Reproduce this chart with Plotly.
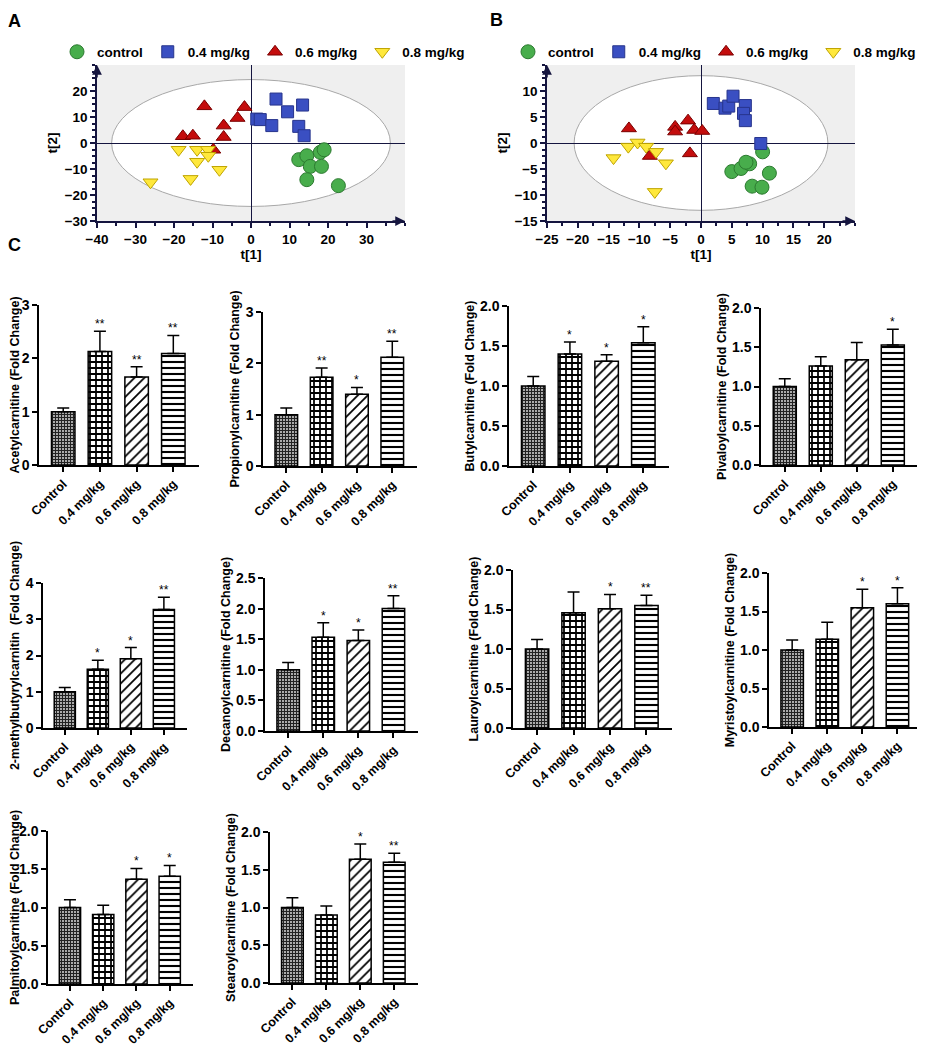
import plotly.graph_objects as go

# the page has an 8px body margin; the figure fills the rest of the 925x1050 window
PAGE_OFF = 8
W, H = 925 - PAGE_OFF, 1050 - PAGE_OFF
FONT = "Arial, 'Liberation Sans', sans-serif"
NAVY = "#15153f"

groups = ["Control", "0.4 mg/kg", "0.6 mg/kg", "0.8 mg/kg"]
legend_names = ["control", "0.4 mg/kg", "0.6 mg/kg", "0.8 mg/kg"]

# ---------- PCA score plot A (t[1], t[2]) ----------
a_ctrl_t1 = [12.4, 14.5, 15.4, 18.0, 19.0, 18.3, 14.5, 22.7]
a_ctrl_t2 = [-6.4, -4.9, -9.0, -3.6, -2.6, -9.0, -14.1, -16.4]
a_04_t1 = [1.5, 2.4, 6.5, 5.4, 9.5, 13.4, 12.4, 13.8]
a_04_t2 = [9.2, 9.0, 16.9, 6.7, 12.0, 14.6, 6.4, 2.8]
a_06_t1 = [-12.1, -1.7, -3.5, -7.1, -17.7, -15.1, -7.1, -9.8]
a_06_t2 = [14.1, 13.8, 9.6, 6.7, 2.6, 2.8, 2.3, -2.6]
a_08_t1 = [-18.8, -14.0, -11.2, -11.1, -14.0, -8.2, -15.7, -26.1]
a_08_t2 = [-2.6, -2.6, -2.6, -4.9, -7.2, -10.3, -13.8, -15.1]

# ---------- PCA score plot B ----------
b_ctrl_t1 = [10.0, 5.0, 6.5, 7.9, 7.3, 11.1, 8.3, 9.9]
b_ctrl_t2 = [-1.7, -5.5, -4.9, -4.0, -3.7, -5.8, -8.3, -8.5]
b_04_t1 = [2.0, 3.9, 4.5, 5.2, 7.2, 6.9, 7.2, 9.7]
b_04_t2 = [7.6, 6.7, 7.1, 9.0, 7.2, 5.7, 4.3, -0.1]
b_06_t1 = [-11.7, -4.2, -4.2, -2.1, -1.1, 0.2, -8.3, -1.8]
b_06_t2 = [2.8, 3.1, 2.2, 4.3, 2.5, 2.3, -2.5, -2.0]
b_08_t1 = [-14.2, -11.8, -10.3, -8.9, -7.3, -5.7, -7.5]
b_08_t2 = [-2.9, -0.7, 0.1, -0.7, -1.7, -3.9, -9.4]

# Hotelling ellipse semi-axes
a_ellipse = [36.2, 24.4]
b_ellipse = [20.6, 12.95]

# ---------- Fold-change bar data ----------
metabolites = ["Acetylcarnitine", "Propionylcarnitine", "Butylcarnitine", "Pivaloylcarnitine",
               "2-methylbutyrylcarnitin ", "Decanoylcarnitine", "Lauroylcarnitine", "Myristoylcarnitine",
               "Palmitoylcarnitine", "Stearoylcarnitine"]
acetyl_mean = [1.0, 2.13, 1.65, 2.09]
acetyl_err = [0.07, 0.38, 0.19, 0.34]
acetyl_sig = ["", "**", "**", "**"]
propionyl_mean = [1.0, 1.73, 1.40, 2.12]
propionyl_err = [0.13, 0.18, 0.13, 0.31]
propionyl_sig = ["", "**", "*", "**"]
butyl_mean = [1.0, 1.40, 1.31, 1.54]
butyl_err = [0.12, 0.15, 0.08, 0.20]
butyl_sig = ["", "*", "*", "*"]
pivaloyl_mean = [1.0, 1.26, 1.34, 1.53]
pivaloyl_err = [0.10, 0.12, 0.22, 0.20]
pivaloyl_sig = ["", "", "", "*"]
methylbutyryl_mean = [1.0, 1.62, 1.91, 3.27]
methylbutyryl_err = [0.12, 0.25, 0.31, 0.34]
methylbutyryl_sig = ["", "*", "*", "**"]
decanoyl_mean = [1.0, 1.53, 1.48, 2.0]
decanoyl_err = [0.12, 0.24, 0.17, 0.21]
decanoyl_sig = ["", "*", "*", "**"]
lauroyl_mean = [1.0, 1.46, 1.51, 1.55]
lauroyl_err = [0.12, 0.26, 0.18, 0.13]
lauroyl_sig = ["", "", "*", "**"]
myristoyl_mean = [1.0, 1.14, 1.55, 1.60]
myristoyl_err = [0.13, 0.22, 0.24, 0.21]
myristoyl_sig = ["", "", "*", "*"]
palmitoyl_mean = [1.0, 0.91, 1.37, 1.41]
palmitoyl_err = [0.10, 0.12, 0.14, 0.14]
palmitoyl_sig = ["", "", "*", "*"]
stearoyl_mean = [1.0, 0.90, 1.64, 1.60]
stearoyl_err = [0.13, 0.12, 0.20, 0.12]
stearoyl_sig = ["", "", "*", "**"]
y_max = [3, 3, 2, 2, 4, 2.5, 2, 2, 2, 2]
y_step = [1, 1, 0.5, 0.5, 1, 0.5, 0.5, 0.5, 0.5, 0.5]

means = [acetyl_mean, propionyl_mean, butyl_mean, pivaloyl_mean, methylbutyryl_mean,
         decanoyl_mean, lauroyl_mean, myristoyl_mean, palmitoyl_mean, stearoyl_mean]
errs = [acetyl_err, propionyl_err, butyl_err, pivaloyl_err, methylbutyryl_err,
        decanoyl_err, lauroyl_err, myristoyl_err, palmitoyl_err, stearoyl_err]
sigs = [acetyl_sig, propionyl_sig, butyl_sig, pivaloyl_sig, methylbutyryl_sig,
        decanoyl_sig, lauroyl_sig, myristoyl_sig, palmitoyl_sig, stearoyl_sig]

# panel boxes in page pixels: (left, right, top, bottom)
boxes = [(39, 199, 305, 465), (263, 417, 312, 466), (509, 669, 306, 466), (761, 918, 308, 465),
         (43, 187, 583, 728), (265, 418, 578, 731), (513, 672, 570, 728), (769, 922, 573, 727),
         (48, 193, 831, 984), (270, 418, 832, 983)]


def xd(p):
    return min(1.0, max(0.0, (p - PAGE_OFF) / W))


def yd(p):
    return min(1.0, max(0.0, 1 - (p - PAGE_OFF) / H))


fig = go.Figure()
layout = dict(template="none", width=W, height=H, margin=dict(l=0, r=0, t=0, b=0, autoexpand=False),
              paper_bgcolor="white", plot_bgcolor="white",
              font=dict(family=FONT, color="black"), showlegend=True)

# ---------- scatter panels ----------
styles = [
    dict(symbol="circle", size=14, color="#48ad4c", line=dict(color="#2c7a30", width=1)),
    dict(symbol="square", size=12, color="#3a4fc2", line=dict(color="#27348c", width=1)),
    dict(symbol="triangle-up", size=13, color="#c40d0d", line=dict(color="#7a0000", width=1)),
    dict(symbol="triangle-down", size=13, color="#ffe83c", line=dict(color="#bfa400", width=1)),
]

pca_sets = [
    ("x", "y", "legend", [(a_ctrl_t1, a_ctrl_t2), (a_04_t1, a_04_t2), (a_06_t1, a_06_t2), (a_08_t1, a_08_t2)]),
    ("x2", "y2", "legend2", [(b_ctrl_t1, b_ctrl_t2), (b_04_t1, b_04_t2), (b_06_t1, b_06_t2), (b_08_t1, b_08_t2)]),
]
for xa, ya, lg, sets in pca_sets:
    for k, (tx, ty) in enumerate(sets):
        fig.add_trace(go.Scatter(x=tx, y=ty, mode="markers", name=legend_names[k],
                                 marker=styles[k], xaxis=xa, yaxis=ya, legend=lg))

pca_cfg = [
    ("xaxis", "yaxis", (97, 405), [-40, 40], list(range(-40, 31, 10)), 5,
     [-30, 30], list(range(-30, 21, 10)), 2.5, a_ellipse, "x", "y"),
    ("xaxis2", "yaxis2", (547, 855), [-25, 25], list(range(-25, 21, 5)), 2.5,
     [-15, 15], list(range(-15, 11, 5)), 1.25, b_ellipse, "x2", "y2"),
]
tickfont_pca = dict(family=FONT, size=13.5, color="black", weight="bold")
for xk, yk, (xl, xr), xr_, xt, xmin, yr_, yt, ymin, ell, xref, yref in pca_cfg:
    layout[xk] = dict(domain=[xd(xl), xd(xr)], range=xr_, tickvals=xt, showgrid=False,
                      zeroline=True, zerolinecolor=NAVY, zerolinewidth=1,
                      showline=True, linecolor=NAVY, linewidth=1.5, ticks="outside",
                      ticklen=5, tickwidth=1.5, tickcolor=NAVY, tickfont=tickfont_pca,
                      minor=dict(dtick=xmin, ticks="outside", ticklen=3, tickcolor=NAVY),
                      title=dict(text="t[1]", font=tickfont_pca, standoff=2),
                      anchor=yref, fixedrange=True, automargin=False)
    layout[yk] = dict(domain=[yd(221), yd(65)], range=yr_, tickvals=yt, showgrid=False,
                      zeroline=True, zerolinecolor=NAVY, zerolinewidth=1,
                      showline=True, linecolor=NAVY, linewidth=1.5, ticks="outside",
                      ticklen=5, tickwidth=1.5, tickcolor=NAVY, tickfont=tickfont_pca,
                      minor=dict(dtick=ymin, ticks="outside", ticklen=3, tickcolor=NAVY),
                      title=dict(text="t[2]", font=tickfont_pca, standoff=4),
                      anchor=xref, fixedrange=True, automargin=False)

shapes = []
annotations = []
for xk, yk, (xl, xr), xr_, xt, xmin, yr_, yt, ymin, ell, xref, yref in pca_cfg:
    shapes.append(dict(type="rect", xref=xref + " domain", yref=yref + " domain", x0=0, x1=1, y0=0, y1=1,
                       fillcolor="#efefef", line=dict(width=0), layer="below"))
    shapes.append(dict(type="circle", xref=xref, yref=yref, x0=-ell[0], x1=ell[0], y0=-ell[1], y1=ell[1],
                       fillcolor="white", line=dict(color="#a8a8a8", width=1), layer="below"))
    annotations.append(dict(xref=xref, yref=yref, x=xr_[1], y=yr_[0], ax=-14, ay=0, text="",
                            showarrow=True, arrowhead=2, arrowsize=1.3, arrowwidth=1.5, arrowcolor=NAVY))
    annotations.append(dict(xref=xref, yref=yref, x=xr_[0], y=yr_[1], ax=0, ay=14, text="",
                            showarrow=True, arrowhead=2, arrowsize=1.3, arrowwidth=1.5, arrowcolor=NAVY))

legfont = dict(family=FONT, size=13.5, color="black", weight="bold")
layout["legend"] = dict(orientation="h", x=xd(57), y=yd(52), xanchor="left", yanchor="middle",
                        font=legfont, itemwidth=30, bgcolor="rgba(0,0,0,0)", tracegroupgap=0)
layout["legend2"] = dict(orientation="h", x=xd(508), y=yd(52), xanchor="left", yanchor="middle",
                         font=legfont, itemwidth=30, bgcolor="rgba(0,0,0,0)", tracegroupgap=0)

# ---------- bar panels ----------
pat_shape = ["+", "+", "/", "-"]
pat_size = [3, 6, 7, 6]
pat_sol = [0.7, 0.5, 0.25, 0.35]
pat_fg = ["#222222", "black", "black", "black"]

for i in range(10):
    n = i + 3
    xa, ya = f"x{n}", f"y{n}"
    fig.add_trace(go.Bar(
        x=groups, y=means[i], xaxis=xa, yaxis=ya, width=0.64, showlegend=False,
        marker=dict(color="white", line=dict(color="black", width=1.5),
                    pattern=dict(shape=pat_shape, size=pat_size, solidity=pat_sol,
                                 fgcolor=pat_fg, bgcolor="white", fillmode="replace")),
        error_y=dict(type="data", array=errs[i], arrayminus=[0] * 4, color="black",
                     thickness=1.5, width=6),
    ))
    l, r, t, b = boxes[i]
    layout[f"xaxis{n}"] = dict(domain=[xd(l), xd(r)], range=[-0.66, 3.7], anchor=ya,
                               showline=True, linecolor="black", linewidth=1.5, ticks="outside",
                               ticklen=5, tickwidth=1.5, tickcolor="black", tickangle=-45,
                               tickfont=dict(family=FONT, size=12.5, color="black", weight="bold"),
                               showgrid=False, zeroline=False, fixedrange=True, automargin=False)
    layout[f"yaxis{n}"] = dict(domain=[yd(b), yd(t)], range=[0, y_max[i]], anchor=xa,
                               dtick=y_step[i], tickformat=".1f" if y_step[i] < 1 else "d",
                               showline=True, linecolor="black", linewidth=1.5, ticks="outside",
                               ticklen=5, tickwidth=1.5, tickcolor="black",
                               tickfont=dict(family=FONT, size=14, color="black", weight="bold"),
                               title=dict(text=metabolites[i] + " (Fold Change)", standoff=3,
                                          font=dict(family=FONT, size=12.5, color="black", weight="bold")),
                               showgrid=False, zeroline=False, fixedrange=True, automargin=False)
    for j in range(4):
        if sigs[i][j]:
            annotations.append(dict(xref=xa, yref=ya, x=groups[j], y=means[i][j] + errs[i][j],
                                    text=sigs[i][j], showarrow=False, yanchor="bottom", yshift=-2,
                                    font=dict(family=FONT, size=12, color="black")))

# panel letters (anchored at their top so they stay inside the figure)
for letter, px, py, anchor in [("A", 14, 9, "top"), ("B", 496, 8, "top"), ("C", 14, 245, "middle")]:
    annotations.append(dict(xref="paper", yref="paper", x=xd(px), y=yd(py), text=letter,
                            showarrow=False, xanchor="center", yanchor=anchor,
                            font=dict(family=FONT, size=18, color="black", weight="bold")))

layout["shapes"] = shapes
layout["annotations"] = annotations
fig.update_layout(**layout)
fig.write_html("out.html")
